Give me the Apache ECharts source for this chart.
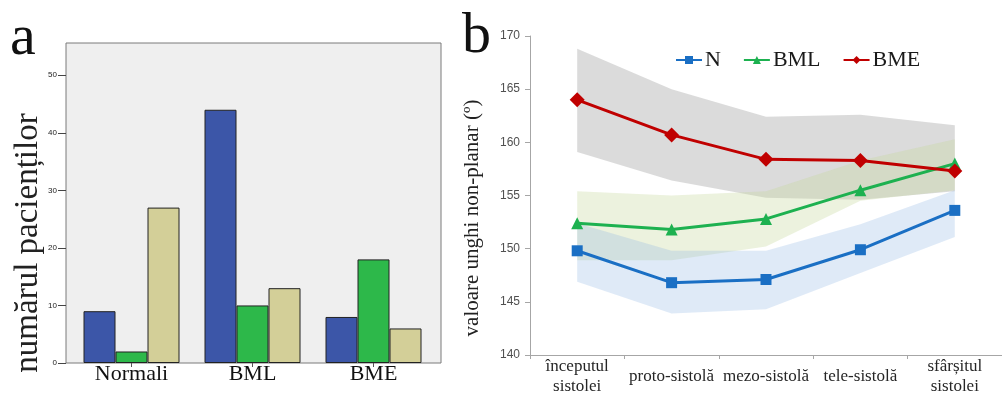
<!DOCTYPE html>
<html>
<head>
<meta charset="utf-8">
<script src="https://cdn.jsdelivr.net/npm/echarts@6/dist/echarts.min.js"></script>
<style>
  html, body { margin: 0; padding: 0; background: #ffffff; }
  #chart { width: 1002px; height: 399px; }
</style>
</head>
<body>
<div id="chart"></div>
<script>
// ---------- Panel a: bar chart ----------
const barCategories = ['Normali', 'BML', 'BME'];
const barBlue  = [9, 44, 8];
const barGreen = [2, 10, 18];
const barTan   = [27, 13, 6];
const barTicks = [0, 10, 20, 30, 40, 50];

// ---------- Panel b: line chart with bands ----------
const phases = ['începutul\nsistolei', 'proto-sistolă', 'mezo-sistolă', 'tele-sistolă', 'sfârșitul\nsistolei'];
const nMean   = [149.8, 146.8, 147.1, 149.9, 153.6];
const nLow    = [146.9, 143.9, 144.3, 147.7, 151.1];
const nHigh   = [152.4, 149.8, 149.8, 152.3, 155.5];
const bmlMean = [152.4, 151.8, 152.8, 155.5, 158.0];
const bmlLow  = [148.9, 148.9, 150.2, 154.5, 155.5];
const bmlHigh = [155.4, 155.0, 155.4, 158.3, 160.3];
const bmeMean = [164.0, 160.7, 158.4, 158.3, 157.3];
const bmeLow  = [159.1, 156.4, 154.8, 154.6, 155.4];
const bmeHigh = [168.8, 165.0, 162.4, 162.6, 161.6];

const SERIF = '"Liberation Serif", "Times New Roman", serif';
const SANS = '"Liberation Sans", Arial, sans-serif';

function diff(hi, lo) { return hi.map((v, i) => +(v - lo[i]).toFixed(2)); }

function bandSeries(stackName, lo, hi, color) {
  return [
    { name: stackName + '_lo', type: 'line', xAxisIndex: 2, yAxisIndex: 2, stack: stackName,
      data: lo, symbol: 'none', lineStyle: { opacity: 0 }, silent: true, z: 1 },
    { name: stackName + '_hi', type: 'line', xAxisIndex: 2, yAxisIndex: 2, stack: stackName,
      data: diff(hi, lo), symbol: 'none', lineStyle: { opacity: 0 },
      areaStyle: { color: color, opacity: 1 }, silent: true, z: 1 }
  ];
}

const chart = echarts.init(document.getElementById('chart'), null, { renderer: 'canvas' });

const option = {
  animation: false,
  backgroundColor: '#ffffff',
  grid: [
    // frame of panel a
    { left: 66, top: 43, width: 375, height: 320, show: true,
      backgroundColor: '#efefef', borderColor: '#7a7a7a', borderWidth: 1 },
    // bars of panel a
    { left: 71, top: 43, width: 363, height: 320 },
    // panel b
    { left: 530, top: 36, width: 483, height: 319 }
  ],
  legend: {
    data: ['N', 'BML', 'BME'],
    left: 670, top: 44,
    itemWidth: 26, itemHeight: 10, itemGap: 22,
    textStyle: { fontFamily: SERIF, fontSize: 22, color: '#1a1a1a', padding: [0, 0, 0, -2] }
  },
  xAxis: [
    { type: 'category', gridIndex: 0, data: barCategories, show: false },
    { type: 'category', gridIndex: 1, data: barCategories,
      axisLine: { show: false },
      axisTick: { show: true, alignWithLabel: true, length: 4, lineStyle: { color: '#555' } },
      axisLabel: { fontFamily: SERIF, fontSize: 22, color: '#111', margin: 0 } },
    { type: 'category', gridIndex: 2, data: phases, boundaryGap: true,
      axisLine: { show: true, lineStyle: { color: '#a6a6a6', width: 1 } },
      axisTick: { show: true, length: 4, lineStyle: { color: '#a6a6a6' } },
      axisLabel: { interval: 0, fontFamily: SERIF, fontSize: 17, lineHeight: 20, color: '#262626',
                   verticalAlign: 'middle', margin: 22 } }
  ],
  yAxis: [
    { type: 'value', gridIndex: 0, min: 0, max: 55.6, interval: 10,
      axisLine: { show: false },
      axisTick: { show: true, length: 8, lineStyle: { color: '#444' }, customValues: barTicks },
      splitLine: { show: false },
      axisLabel: { fontFamily: SANS, fontSize: 8, color: '#222', margin: 9, customValues: barTicks } },
    { type: 'value', gridIndex: 1, min: 0, max: 55.6, show: false, splitLine: { show: false } },
    { type: 'value', gridIndex: 2, min: 140, max: 170, interval: 5,
      axisLine: { show: true, lineStyle: { color: '#a6a6a6', width: 1 } },
      axisTick: { show: true, length: 5, lineStyle: { color: '#a6a6a6' } },
      splitLine: { show: false },
      axisLabel: { fontFamily: SANS, fontSize: 12, color: '#505050', margin: 10 } }
  ],
  series: [
    { name: 'blue', type: 'bar', xAxisIndex: 1, yAxisIndex: 1, data: barBlue,
      barWidth: 32, barGap: '0%',
      itemStyle: { color: '#3c56a8', borderColor: '#222', borderWidth: 1 } },
    { name: 'green', type: 'bar', xAxisIndex: 1, yAxisIndex: 1, data: barGreen,
      barWidth: 32, barGap: '0%',
      itemStyle: { color: '#2db84a', borderColor: '#222', borderWidth: 1 } },
    { name: 'tan', type: 'bar', xAxisIndex: 1, yAxisIndex: 1, data: barTan,
      barWidth: 32, barGap: '0%',
      itemStyle: { color: '#d3cf98', borderColor: '#222', borderWidth: 1 } },

    ...bandSeries('bmeBand', bmeLow, bmeHigh, 'rgba(190,190,190,0.55)'),
    ...bandSeries('bmlBand', bmlLow, bmlHigh, 'rgba(196,215,155,0.33)'),
    ...bandSeries('nBand', nLow, nHigh, 'rgba(141,180,226,0.28)'),

    { name: 'N', type: 'line', xAxisIndex: 2, yAxisIndex: 2, data: nMean,
      symbol: 'rect', symbolSize: 11, z: 5,
      lineStyle: { color: '#1a6fc4', width: 3 }, itemStyle: { color: '#1a6fc4' } },
    { name: 'BML', type: 'line', xAxisIndex: 2, yAxisIndex: 2, data: bmlMean,
      symbol: 'triangle', symbolSize: 12, z: 5,
      lineStyle: { color: '#1db150', width: 3 }, itemStyle: { color: '#1db150' } },
    { name: 'BME', type: 'line', xAxisIndex: 2, yAxisIndex: 2, data: bmeMean,
      symbol: 'diamond', symbolSize: 15, z: 5,
      lineStyle: { color: '#c00000', width: 3 }, itemStyle: { color: '#c00000' } }
  ],
  graphic: [
    { type: 'text', left: 10, top: 10, style: { text: 'a', font: '58px ' + SERIF, fill: '#111' } },
    { type: 'text', left: 462, top: 8, style: { text: 'b', font: '58px ' + SERIF, fill: '#111' } },
    { type: 'text', x: 28, y: 243, rotation: Math.PI / 2,
      style: { text: 'numărul pacienților', font: '33px ' + SERIF, fill: '#222',
               align: 'center', verticalAlign: 'middle' } },
    { type: 'text', x: 472, y: 218, rotation: Math.PI / 2,
      style: { text: 'valoare unghi non-planar (º)', font: '21px ' + SERIF, fill: '#222',
               align: 'center', verticalAlign: 'middle' } }
  ]
};

chart.setOption(option);
</script>
</body>
</html>
